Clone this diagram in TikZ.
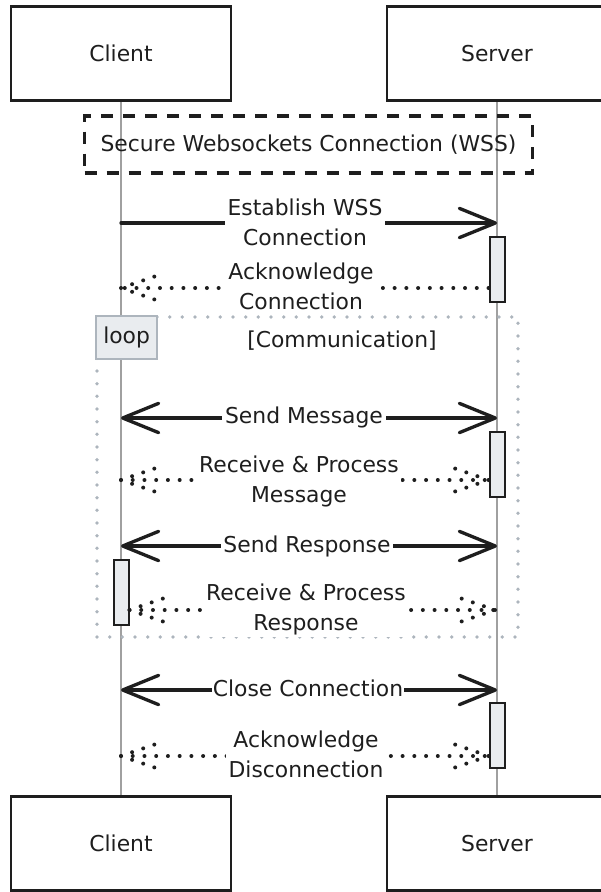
\documentclass[tikz,border=0pt]{standalone}
\usepackage{fontspec}
\setmainfont{DejaVu Sans}
\usetikzlibrary{arrows.meta}
\definecolor{ink}{HTML}{1E1E1E}
\definecolor{life}{HTML}{A0A0A0}
\definecolor{framegray}{HTML}{ADB5BD}
\definecolor{barfill}{HTML}{E9ECEF}
\tikzset{
  actor/.style={draw=ink, line width=2.2pt, minimum width=165pt, minimum height=71pt, inner sep=0pt, text=ink},
  lifeline/.style={draw=life, line width=1.1pt},
  groupbox/.style={draw=ink, line width=2.6pt, dash pattern=on 9pt off 7.5pt, minimum width=336pt, minimum height=42.5pt, inner sep=0pt, text=ink},
  loopframe/.style={draw=framegray, line width=2.8pt, line cap=round, dash pattern=on 0pt off 9.5pt, minimum width=315.75pt, minimum height=240pt, inner sep=0pt},
  looptag/.style={draw=framegray, line width=1.5pt, fill=barfill, minimum width=45.75pt, minimum height=32pt, inner sep=0pt, anchor=north west, text=ink},
  actbar/.style={draw=ink, line width=1.5pt, fill=barfill, minimum width=11.25pt, minimum height=48.75pt, inner sep=0pt},
  solidmsg/.style={draw=ink, line width=2.5pt, line cap=round},
  tipR/.style={-{Straight Barb[length=27pt,width=22pt,round]}},
  tipB/.style={{Straight Barb[length=27pt,width=22pt,round]}-{Straight Barb[length=27pt,width=22pt,round]}},
  dotline/.style={draw=ink, line width=3pt, line cap=round, dash pattern=on 0pt off 8.8pt},
  lbl/.style={fill=white, align=center, inner sep=2pt, text=ink},
}
% dotted open arrow heads, pointing left or right at the given coordinate
\newcommand\headleft[1]{\draw[dotline] (#1) -- +(35,-12) (#1) -- +(35,12);}
\newcommand\headright[1]{\draw[dotline] (#1) -- +(-35,-12) (#1) -- +(-35,12);}
\begin{document}
\begin{tikzpicture}[x=0.75pt,y=-0.75pt,font=\fontsize{16.4}{22.5}\selectfont]
\useasboundingbox (0,0) rectangle (600,892);

% participants
\node[actor] (ct) at (121,53.5) {Client};
\node[actor] (st) at (497,53.5) {Server};
\node[actor] (cb) at (121,843.5) {Client};
\node[actor] (sb) at (497,843.5) {Server};
\draw[lifeline] (ct.south) -- (cb.north);
\draw[lifeline] (st.south) -- (sb.north);

% connection group
\node[groupbox] (wss) at (308.5,144.5) {Secure Websockets Connection (WSS)};

% loop frame
\node[loopframe] (loop) at (307.5,477) {};
\node[looptag] (tag) at (loop.north west) {loop};
\node[text=ink] (cond) at (342,341) {[Communication]};

% activation bars
\node[actbar] (a1) at (497,269.5) {};
\node[actbar] (a2) at (497,464.5) {};
\node[actbar] (a3) at (121,592.5) {};
\node[actbar] (a4) at (497,735.5) {};

% message end points
\coordinate (m1c) at (121,223);  \coordinate (m1s) at (497,223);
\coordinate (m2c) at (121,288);  \coordinate (m2s) at (a1.west |- 0,288);
\coordinate (m3c) at (121,418);  \coordinate (m3s) at (497,418);
\coordinate (m4c) at (121,480);  \coordinate (m4s) at (a2.west |- 0,480);
\coordinate (m5c) at (121,546);  \coordinate (m5s) at (497,546);
\coordinate (m6c) at (a3.east |- 0,610); \coordinate (m6s) at (495,610);
\coordinate (m7c) at (121,690);  \coordinate (m7s) at (497,690);
\coordinate (m8c) at (121,756);  \coordinate (m8s) at (a4.west |- 0,756);

% messages
\draw[solidmsg,tipR] (m1c) -- (m1s);
\draw[dotline] (m2s) -- (m2c); \headleft{m2c}
\draw[solidmsg,tipB] (m3c) -- (m3s);
\draw[dotline] (m4c) -- (m4s); \headleft{m4c} \headright{m4s}
\draw[solidmsg,tipB] (m5c) -- (m5s);
\draw[dotline] (m6c) -- (m6s); \headleft{m6c} \headright{m6s}
\draw[solidmsg,tipB] (m7c) -- (m7s);
\draw[dotline] (m8c) -- (m8s); \headleft{m8c} \headright{m8s}

% message labels
\node[lbl] (l1) at (305,222) {Establish WSS\\Connection};
\node[lbl] (l2) at (301,286) {Acknowledge\\Connection};
\node[lbl] (l3) at (304,417) {Send Message};
\node[lbl] (l4) at (299,481) {Receive \& Process\\Message};
\node[lbl] (l5) at (307,546) {Send Response};
\node[lbl] (l6) at (306,609) {Receive \& Process\\Response};
\node[lbl,inner sep=1pt] (l7) at (308,688) {Close Connection};
\node[lbl] (l8) at (306,754) {Acknowledge\\Disconnection};
\end{tikzpicture}
\end{document}
